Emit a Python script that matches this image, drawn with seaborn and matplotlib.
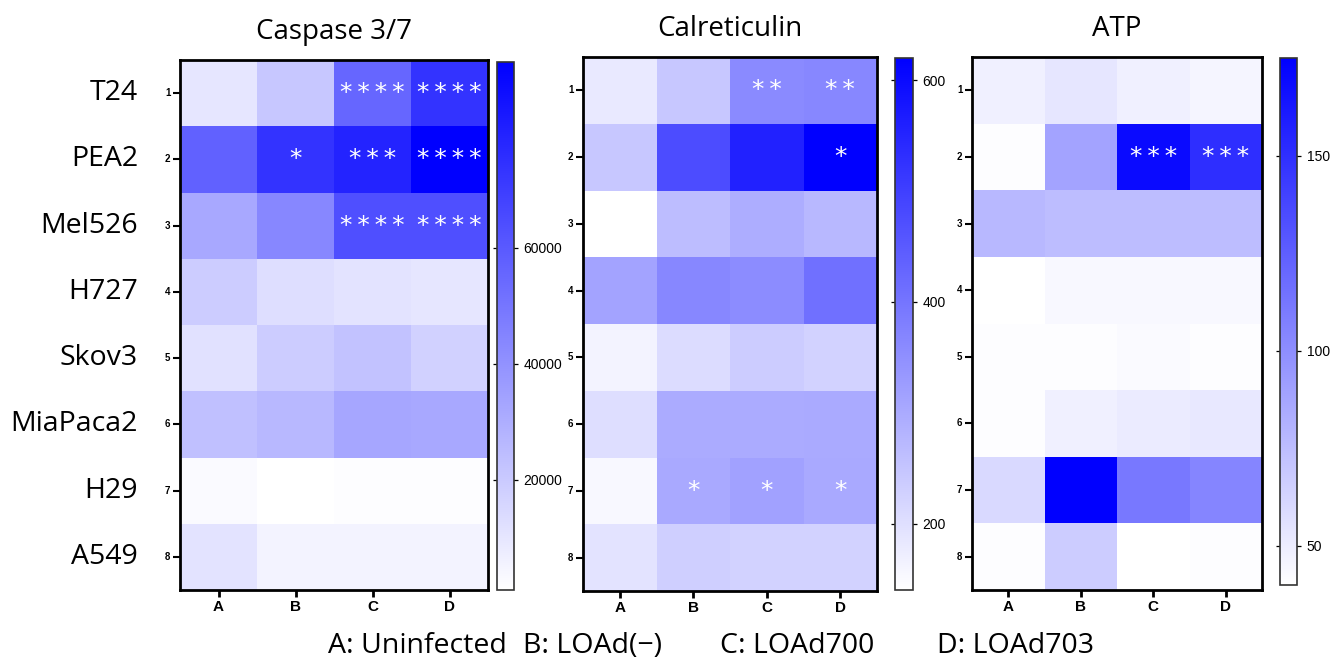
import numpy as np
import pandas as pd
import matplotlib
matplotlib.use("Agg")
import matplotlib.pyplot as plt
from matplotlib.colors import LinearSegmentedColormap
import seaborn as sns

sns.set_theme(style="white")
plt.rcParams['font.family'] = ['Liberation Sans', 'DejaVu Sans']
plt.rcParams['text.color'] = 'black'
plt.rcParams['xtick.color'] = 'black'
plt.rcParams['ytick.color'] = 'black'
plt.rcParams['axes.labelcolor'] = 'black'

# ---------------- data ----------------
cell_lines = ["T24", "PEA2", "Mel526", "H727", "Skov3", "MiaPaca2", "H29", "A549"]
row_ticks = ["1", "2", "3", "4", "5", "6", "7", "8"]
groups = ["A", "B", "C", "D"]
legend_labels = ["A: Uninfected", "B: LOAd(\u2212)", "C: LOAd700", "D: LOAd703"]
titles = ["Caspase 3/7", "Calreticulin", "ATP"]

caspase = [
    [10100, 21000, 55600, 73800],
    [57400, 73800, 79300, 92000],
    [32000, 43800, 63800, 63800],
    [19200, 12800, 11000, 10100],
    [11900, 19200, 22800, 17400],
    [23700, 26500, 32800, 32000],
    [2800, 1000, 1900, 1900],
    [11000, 5500, 5500, 5500],
]
caspase_sig = [
    ["", "", "****", "****"],
    ["", "*", "***", "****"],
    ["", "", "****", "****"],
    ["", "", "", ""], ["", "", "", ""], ["", "", "", ""],
    ["", "", "", ""], ["", "", "", ""],
]
calreticulin = [
    [183, 246, 361, 366],
    [246, 476, 558, 620],
    [140, 265, 294, 274],
    [313, 366, 356, 409],
    [164, 207, 236, 226],
    [202, 298, 298, 300],
    [154, 303, 318, 303],
    [193, 231, 226, 226],
]
calreticulin_sig = [
    ["", "", "**", "**"],
    ["", "", "", "*"],
    ["", "", "", ""], ["", "", "", ""], ["", "", "", ""], ["", "", "", ""],
    ["", "*", "*", "*"],
    ["", "", "", ""],
]
atp = [
    [48.0, 53.5, 48.0, 45.4],
    [41.4, 88.6, 169.6, 150.7],
    [77.8, 75.1, 75.1, 75.1],
    [40.0, 44.0, 44.0, 44.0],
    [41.4, 41.4, 42.7, 41.4],
    [41.4, 48.1, 50.8, 52.2],
    [60.3, 175.0, 111.6, 104.8],
    [41.4, 67.0, 40.0, 41.4],
]
atp_sig = [
    ["", "", "", ""],
    ["", "", "***", "***"],
    ["", "", "", ""], ["", "", "", ""], ["", "", "", ""], ["", "", "", ""],
    ["", "", "", ""], ["", "", "", ""],
]

ranges = [(1000, 92000), (140, 620), (40, 175)]
cbar_ticks = [[20000, 40000, 60000], [200, 400, 600], [50, 100, 150]]

# ---------------- layout ----------------
W, H = 1333, 658
fig = plt.figure(figsize=(W / 100, H / 100), dpi=100)

def frac(x0, y_top, w, h):
    return [x0 / W, (H - y_top - h) / H, w / W, h / H]

ax_boxes = [frac(180, 60, 308, 530), frac(583, 57, 294, 534), frac(972, 57, 290, 533)]
cb_boxes = [frac(497, 62, 17, 528), frac(895, 58, 18, 532), frac(1280, 58, 17, 527)]

cmap = LinearSegmentedColormap.from_list("wb", ["#FFFFFF", "#0000FF"])

datasets = [(caspase, caspase_sig), (calreticulin, calreticulin_sig), (atp, atp_sig)]

for i, ((vals, sig), (vmin, vmax)) in enumerate(zip(datasets, ranges)):
    ax = fig.add_axes(ax_boxes[i])
    cax = fig.add_axes(cb_boxes[i])
    df = pd.DataFrame(vals, index=row_ticks, columns=groups)
    annot = np.array([["\u2009".join(list(s)) if s else "" for s in r] for r in sig])
    sns.heatmap(df, ax=ax, cbar_ax=cax, cmap=cmap, vmin=vmin, vmax=vmax,
                annot=annot, fmt="", annot_kws={"color": "white", "fontsize": 18,
                                                "family": "DejaVu Sans"},
                linewidths=0)
    for sp in ax.spines.values():
        sp.set_visible(True)
        sp.set_color("black")
        sp.set_linewidth(2)
    ax.set_xlabel("")
    ax.set_ylabel("")
    ax.tick_params(axis="y", left=True, length=5, width=1.5, color="black",
                   labelsize=7, pad=2, rotation=0)
    ax.tick_params(axis="x", bottom=True, length=5, width=2, color="black",
                   labelsize=11, pad=2)
    for t in ax.get_yticklabels():
        t.set_fontweight("bold")
        t.set_rotation(0)
    for t in ax.get_xticklabels():
        t.set_fontweight("bold")
    ax.set_title(titles[i], fontsize=20, family="Open Sans", pad=15, color="black")

    cax.set_yticks(cbar_ticks[i])
    cax.yaxis.set_ticks_position("both")
    cax.yaxis.set_label_position("right")
    cax.tick_params(axis="y", which="both", left=True, right=True, labelleft=False,
                    labelright=True, direction="inout",
                    length=6, width=0.9, labelsize=10, color="black", pad=4)
    cb = ax.collections[0].colorbar
    cb.outline.set_edgecolor("#333333")
    cb.outline.set_linewidth(1.2)

# row names on the left
ax0_top, ax0_h = 60, 530
for j, name in enumerate(cell_lines):
    yc = ax0_top + ax0_h * (j + 0.5) / 8
    fig.text(138 / W, 1 - yc / H, name, ha="right", va="center",
             fontsize=20.5, family="Open Sans", color="black")

# bottom legend
leg_x = [328, 523, 720, 937]
for x, lab in zip(leg_x, legend_labels):
    fig.text(x / W, 1 - 646 / H, lab, ha="left", va="center",
             fontsize=20.5, family="Open Sans", color="black")

fig.savefig("out.png", dpi=100)
